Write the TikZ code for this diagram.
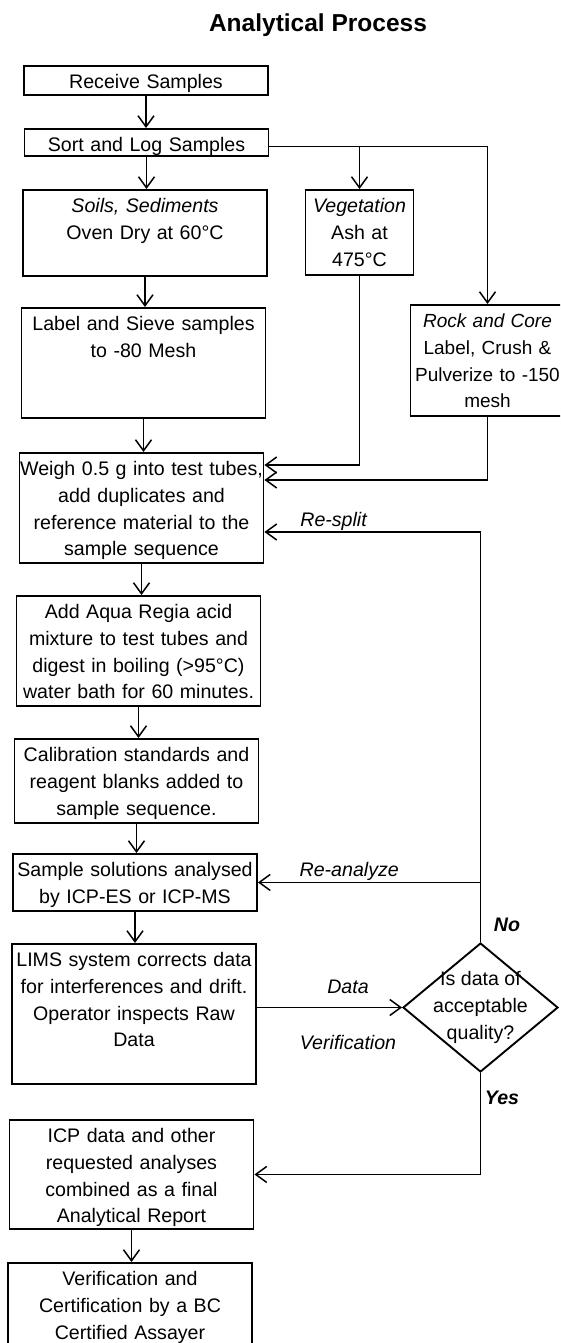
\documentclass[tikz,border=0pt]{standalone}
\usepackage{fontspec}
\setmainfont{Liberation Sans}
\usepackage{tikz}
\usetikzlibrary{arrows.meta, positioning, shapes.geometric}

\begin{document}
\begin{tikzpicture}[
  x=1pt, y=-1pt,
  every node/.style={font=\fontsize{19.6}{26.6}\selectfont},
  stage/.style={draw, line width=1.9pt, anchor=north, align=center,
                text width=244pt, inner xsep=0pt, inner ysep=3pt,
                text height=20pt},
  query/.style={draw, diamond, line width=1.9pt, inner sep=-15pt,
                minimum width=155pt, minimum height=129pt, align=center},
  arr/.style={-{Straight Barb[length=11pt, width=16pt]}, line width=1.5pt},
  tag/.style={font=\fontsize{19.6}{22}\selectfont\itshape, inner sep=1pt},
]
  \useasboundingbox (0,0) rectangle (560,1343);
  \clip (0,0) rectangle (560,1343);

  \node[font=\fontsize{24.5}{28}\selectfont\bfseries] (title) at (318,25) {Analytical Process};

  \node[stage, text depth=3pt] (recv) at (146,65) {Receive Samples};
  \node[stage, text depth=1pt] (sort) at (146.5,128) {Sort and Log Samples};
  \node[stage, text depth=60pt] (soils) at (145,189)
       {\textit{Soils, Sediments}\\Oven Dry at 60°C};
  \node[stage, text width=108pt, text depth=59pt] (veg) at (359.5,189)
       {\textit{Vegetation}\\Ash at\\475°C};
  \node[stage, text width=154pt, text depth=85pt, font=\fontsize{19}{26.6}\selectfont] (rock) at (487.5,304)
       {\textit{Rock and Core}\\Label, Crush \&\\Pulverize to -150\\mesh};
  \node[stage, text depth=84pt] (sieve) at (143.5,307)
       {Label and Sieve samples\\to -80 Mesh};
  \node[stage, text depth=84pt] (weigh) at (141.5,452)
       {Weigh 0.5 g into test tubes,\\add duplicates and\\reference material to the\\sample sequence};
  \node[stage, text depth=84pt] (aqua) at (138.5,595)
       {Add Aqua Regia acid\\mixture to test tubes and\\digest in boiling (>95°C)\\water bath for 60 minutes.};
  \node[stage, text depth=58pt] (calib) at (136.5,738)
       {Calibration standards and\\reagent blanks added to\\sample sequence.};
  \node[stage, text depth=31pt] (icp) at (135,853)
       {Sample solutions analysed\\by ICP-ES or ICP-MS};
  \node[stage, text depth=114pt] (lims) at (134,943)
       {LIMS system corrects data\\for interferences and drift.\\Operator inspects Raw\\Data};
  \node[query] (check) at (480.5,1007.5) {Is data of\\acceptable\\quality?};
  \node[stage, text depth=83pt] (report) at (131.5,1119)
       {ICP data and other\\requested analyses\\combined as a final\\Analytical Report};
  \node[stage, text depth=74pt] (cert) at (130,1262)
       {Verification and\\Certification by a BC\\Certified Assayer};

  \node[tag] (datatag) at (348,987) {Data};
  \node[tag] (veriftag) at (348,1042) {Verification};
  \node[tag, font=\fontsize{19.6}{22}\selectfont\bfseries\itshape] (notag) at (507,925) {No};
  \node[tag, font=\fontsize{19.6}{22}\selectfont\bfseries\itshape] (yestag) at (502,1098) {Yes};

  \coordinate (split) at ([yshift=-4pt]sort.east);

  \draw[arr] (recv.south) -- (recv.south |- sort.north);
  \draw[arr] (sort.south) -- (sort.south |- soils.north);
  \draw[arr] (split) -| (rock.north);
  \draw[arr] (split -| veg.north) -- (veg.north);
  \draw[arr] (soils.south) -- (soils.south |- sieve.north);
  \draw[arr] (sieve.south) -- (sieve.south |- weigh.north);
  \draw[arr] (veg.south) |- ([yshift=-13pt]weigh.north east);
  \draw[arr] (rock.south) |- ([yshift=-28pt]weigh.north east);
  \draw[arr] (weigh.south) -- (weigh.south |- aqua.north);
  \draw[arr] (aqua.south) -- (aqua.south |- calib.north);
  \draw[arr] (calib.south) -- (calib.south |- icp.north);
  \draw[arr] (icp.south) -- (icp.south |- lims.north);
  \draw[arr] (lims.east |- check.west) -- (check.west);
  \draw[arr] (check.north) |- node[tag, above, pos=0.84] {Re-split}
        ([yshift=-80pt]weigh.north east);
  \draw[arr] (check.north |- icp.east) -- node[tag, above, pos=0.59] {Re-analyze} (icp.east);
  \draw[arr] (check.south) |- (report.east);
  \draw[arr] (report.south) -- (report.south |- cert.north);
\end{tikzpicture}
\end{document}
